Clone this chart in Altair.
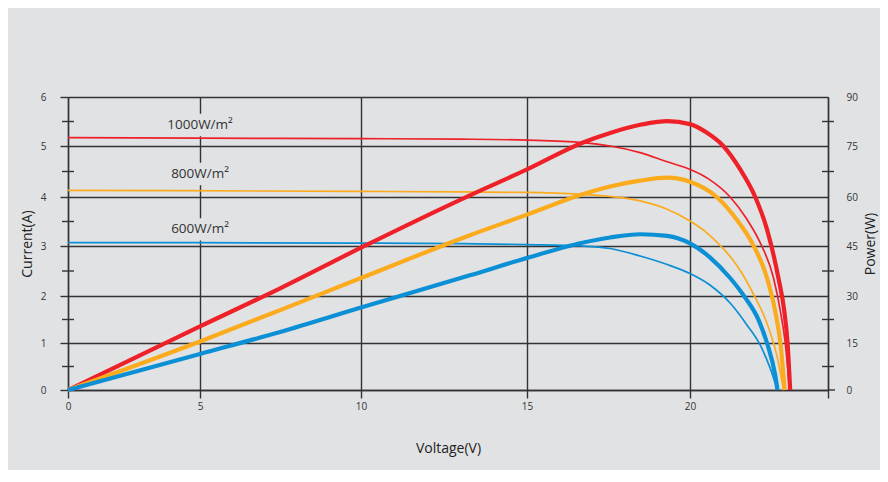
import altair as alt
import pandas as pd

# ---------------- data ----------------
series_names = ["1000W/m²", "800W/m²", "600W/m²"]
series_colors = ["#ee2129", "#fbab1c", "#0b8fd5"]

# I-V curves (current, A)
v_i_1000 = [0, 5, 10, 13, 15, 16.7, 17.55, 18.47, 19.3, 20, 20.31, 20.6, 21.23, 21.74, 22.15, 22.56, 22.77, 22.92, 23.05]
i_1000 = [5.17, 5.16, 5.15, 5.14, 5.12, 5.07, 5.0, 4.87, 4.69, 4.54, 4.45, 4.34, 4.0, 3.55, 3.07, 2.36, 1.68, 1.0, 0]

v_i_800 = [0, 10, 13, 15, 16.7, 17.55, 18.47, 19.3, 20, 20.5, 21.0, 21.28, 21.54, 21.95, 22.36, 22.67, 22.87]
i_800 = [4.13, 4.11, 4.10, 4.09, 4.05, 4.01, 3.92, 3.75, 3.51, 3.28, 2.96, 2.75, 2.51, 2.03, 1.42, 0.71, 0]

v_i_600 = [0, 10, 13, 15, 16.7, 17.55, 18.47, 19.3, 20, 20.61, 21.23, 21.74, 22.15, 22.46, 22.68]
i_600 = [3.07, 3.06, 3.05, 3.03, 3.0, 2.95, 2.80, 2.63, 2.45, 2.22, 1.85, 1.39, 0.96, 0.46, 0]

# P-V curves (power, W)
v_p_1000 = [0, 5, 7.49, 10, 13.28, 15, 16.7, 17.55, 18.47, 19.0, 19.3, 20, 20.51, 21.02, 21.54, 22.0, 22.36, 22.71, 22.89, 22.99, 23.07]
p_1000 = [0, 20.3, 32.3, 44.5, 60.5, 68.1, 76.0, 79.0, 81.5, 82.4, 82.6, 81.7, 79.1, 75.0, 68.1, 60.0, 50.1, 35.4, 25.2, 15.0, 0]

v_p_800 = [0, 5, 7.49, 10, 13.28, 15, 16.7, 17.55, 18.47, 19.3, 20, 20.82, 21.43, 21.9, 22.36, 22.61, 22.77, 22.9]
p_800 = [0, 15.5, 25.5, 35.4, 48.3, 54.6, 60.8, 63.1, 64.8, 65.7, 64.5, 60.0, 53.1, 46.0, 35.4, 25.2, 15.0, 0]

v_p_600 = [0, 5, 7.49, 10, 13.28, 15, 16.7, 17.55, 18.47, 19.3, 20, 20.61, 21.23, 21.69, 22.1, 22.36, 22.61, 22.68]
p_600 = [0, 11.5, 18.5, 26.3, 36.2, 41.4, 46.0, 47.6, 48.6, 48.1, 45.8, 41.6, 35.4, 29.5, 22.4, 15.0, 4.8, 0]

# labels of the irradiance levels
label_v = [5, 5, 5]
label_i = [5.43, 4.45, 3.34]

# axis ticks
x_ticks = [0, 5, 10, 15, 20]
x_max = 24.23
i_ticks = [0, 1, 2, 3, 4, 5, 6]
p_ticks = [0, 15, 30, 45, 60, 75, 90]
i_minor = [0.5, 1.5, 2.5, 3.5, 4.5, 5.5]

# ---------------- frames ----------------
def frame(vs, ys, name):
    return pd.DataFrame({"V": vs, "val": ys, "series": name})

cur_df = pd.concat([frame(v_i_1000, i_1000, series_names[0]),
                    frame(v_i_800, i_800, series_names[1]),
                    frame(v_i_600, i_600, series_names[2])], ignore_index=True)
pow_df = pd.concat([frame(v_p_1000, p_1000, series_names[0]),
                    frame(v_p_800, p_800, series_names[1]),
                    frame(v_p_600, p_600, series_names[2])], ignore_index=True)
label_df = pd.DataFrame({"V": label_v, "val": label_i, "text": series_names})
minor_df = pd.DataFrame({"val": i_minor})
zero_df = pd.DataFrame({"val": [0]})

BG = "#e1e2e4"
GRID = "#333333"
TXT = "#333333"
FONT = "Open Sans"

# the original chart's x spacing is uneven: reproduce it with a piecewise scale
x_scale = alt.Scale(domain=[0, 5, 10, 15, 20, x_max], range=[0, 132, 293, 459, 622, 760], nice=False, zero=False)
i_scale = alt.Scale(domain=i_ticks, range=[293, 246, 199, 149, 100, 49, 0], nice=False, zero=False)
p_scale = alt.Scale(domain=p_ticks, range=[293, 246, 199, 149, 100, 49, 0], nice=False, zero=False)
color_scale = alt.Scale(domain=series_names, range=series_colors)

x_axis = alt.Axis(values=x_ticks + [x_max], labelExpr="datum.value > 21 ? '' : datum.label",
                  title="Voltage(V)", grid=True, gridColor=GRID, gridWidth=1.4, gridOpacity=1,
                  tickSize=8, tickColor=GRID, tickWidth=1.4, domainColor=GRID, domainWidth=1.4,
                  labelFontSize=10, labelColor=TXT, labelPadding=3, labelFlush=False, labelFont=FONT,
                  titleFontSize=14, titleFontWeight="normal", titleColor="#222222", titlePadding=30,
                  titleFont=FONT)
i_axis = alt.Axis(values=i_ticks, title="Current(A)", grid=True, gridColor=GRID, gridWidth=1.4, gridOpacity=1,
                  tickSize=8, tickColor=GRID, tickWidth=1.4, domainColor=GRID, domainWidth=1.4,
                  labelFontSize=10, labelColor=TXT, labelPadding=14, labelFont=FONT,
                  titleFontSize=14, titleFontWeight="normal", titleColor="#222222", titlePadding=6,
                  titleFont=FONT)
p_axis = alt.Axis(orient="right", values=p_ticks, title="Power(W)", grid=False, ticks=False, tickSize=0,
                  domainColor=GRID, domainWidth=1.4,
                  labelFontSize=10, labelColor=TXT, labelPadding=18, labelFont=FONT,
                  titleFontSize=14, titleFontWeight="normal", titleColor="#222222", titlePadding=20,
                  titleAngle=270, titleFont=FONT)

X = alt.X("V:Q", scale=x_scale, axis=x_axis)
Yi = alt.Y("val:Q", scale=i_scale, axis=i_axis)

boxes = alt.Chart(label_df).mark_point(
    shape="M-1,-0.32H1V0.32H-1Z", filled=True, color=BG, opacity=1, size=4900, strokeWidth=0
).encode(x=X, y=Yi)

minor_left = alt.Chart(minor_df).mark_rule(color=GRID, strokeWidth=1.4).encode(
    y=Yi, x=alt.value(-6), x2=alt.value(6))
minor_right = alt.Chart(minor_df).mark_rule(color=GRID, strokeWidth=1.4).encode(
    y=Yi, x=alt.value(754), x2=alt.value(766))
zero_right = alt.Chart(zero_df).mark_rule(color=GRID, strokeWidth=1.4).encode(
    y=Yi, x=alt.value(760), x2=alt.value(767))

thin = alt.Chart(cur_df).mark_line(strokeWidth=1.7, interpolate="monotone").encode(
    x=X, y=Yi,
    color=alt.Color("series:N", scale=color_scale, legend=None),
    detail="series:N")

texts = alt.Chart(label_df).mark_text(font=FONT, fontSize=13.5, color=TXT, align="center",
                                      baseline="middle").encode(x=X, y=Yi, text="text:N")

current_group = alt.layer(boxes, minor_left, minor_right, zero_right, thin, texts)

thick = alt.Chart(pow_df).mark_line(strokeWidth=4.2, interpolate="monotone").encode(
    x=X,
    y=alt.Y("val:Q", scale=p_scale, axis=p_axis),
    color=alt.Color("series:N", scale=color_scale, legend=None),
    detail="series:N")

chart = alt.layer(current_group, thick).resolve_scale(y="independent").properties(
    width=760, height=293, background=BG,
    padding={"left": 60, "top": 89, "right": 52, "bottom": 80},
    autosize=alt.AutoSizeParams(type="none"),
).configure_view(strokeWidth=0).configure(font=FONT)

chart.save("out.html", embed_options={"renderer": "svg", "actions": False})
